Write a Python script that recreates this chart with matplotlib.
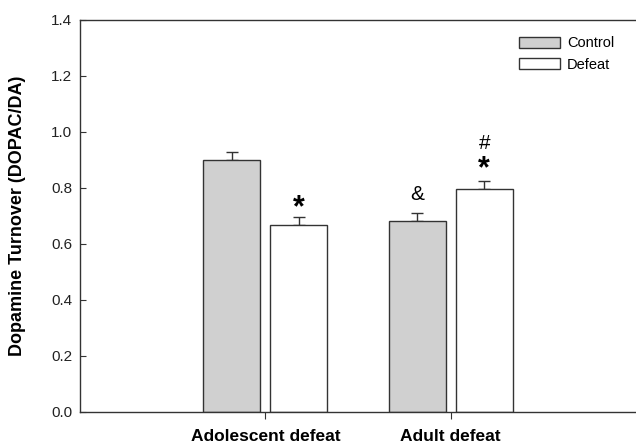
import matplotlib
matplotlib.use("Agg")
import matplotlib.pyplot as plt
from matplotlib.patches import Patch
import numpy as np

plt.rcParams['font.family'] = ['Liberation Sans', 'DejaVu Sans']

# data
groups = ['Adolescent defeat', 'Adult defeat']
control = [0.900, 0.681]
control_err = [0.030, 0.029]
defeat = [0.667, 0.796]
defeat_err = [0.031, 0.029]

x = np.arange(len(groups))
w = 0.307
off = 0.181

fig = plt.figure(figsize=(6.36, 4.48), dpi=100)
ax = fig.add_axes([0.1258, 0.0804, 0.8742, 0.875])

edge = '#333333'
ax.bar(x - off, control, w, color='#d0d0d0', edgecolor=edge, linewidth=1, zorder=2)
ax.bar(x + off, defeat, w, color='white', edgecolor=edge, linewidth=1, zorder=2)

# error bars (upper only)
ax.errorbar(x - off, control, yerr=[np.zeros(2), control_err], fmt='none',
            ecolor=edge, elinewidth=1, capsize=4, capthick=1, zorder=1)
ax.errorbar(x + off, defeat, yerr=[np.zeros(2), defeat_err], fmt='none',
            ecolor=edge, elinewidth=1, capsize=4, capthick=1, zorder=1)

# significance marks
ax.text(0 + off, 0.728, '*', ha='center', va='center', fontsize=22, fontweight='bold')
ax.text(1 - off, 0.776, '&', ha='center', va='center', fontsize=15)
ax.text(1 + off, 0.867, '*', ha='center', va='center', fontsize=22, fontweight='bold')
ax.text(1 + off, 0.960, '#', ha='center', va='center', fontsize=15)

ax.set_xlim(-1, 2)
ax.set_ylim(0, 1.4)
ax.set_yticks(np.arange(0, 1.41, 0.2))
ax.set_yticklabels(['%.1f' % v for v in np.arange(0, 1.41, 0.2)], fontsize=11, color='#222222')
ax.set_xticks(x)
ax.set_xticklabels(groups, fontsize=12.5, fontweight='bold')

ax.tick_params(axis='y', direction='in', length=4, pad=5.5, color=edge)
ax.tick_params(axis='x', direction='out', length=5, pad=7.5, color=edge)

ax.spines['right'].set_visible(False)
for s in ['left', 'bottom', 'top']:
    ax.spines[s].set_color(edge)
    ax.spines[s].set_linewidth(1)

ax.set_ylabel('Dopamine Turnover (DOPAC/DA)', fontsize=13, fontweight='bold')
ax.yaxis.set_label_coords(-0.097, 0.5)

handles = [Patch(facecolor='#d0d0d0', edgecolor=edge, linewidth=1, label='Control'),
           Patch(facecolor='white', edgecolor=edge, linewidth=1, label='Defeat')]
ax.legend(handles=handles, loc='upper left', bbox_to_anchor=(0.776, 0.977),
          frameon=False, fontsize=10.5, handlelength=2.8, handleheight=0.8,
          handletextpad=0.5, borderpad=0, labelspacing=0.5)

fig.savefig('out.png', dpi=100)
